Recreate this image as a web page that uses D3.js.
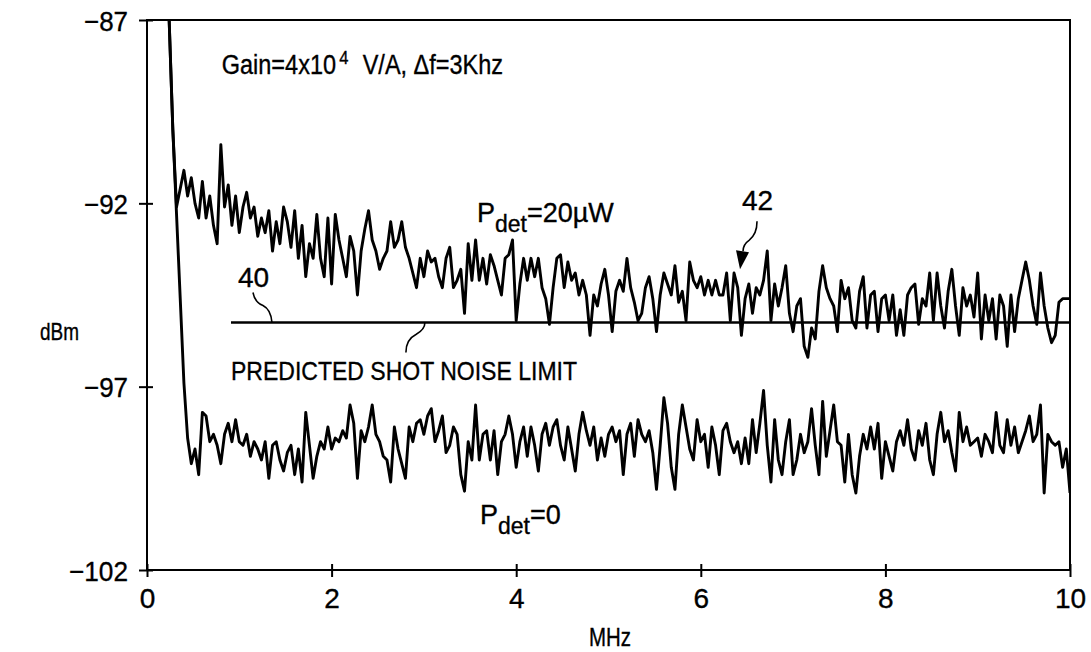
<!DOCTYPE html>
<html>
<head>
<meta charset="utf-8">
<script src="https://cdn.jsdelivr.net/npm/d3@7"></script>
<style>
  html, body { margin: 0; padding: 0; background: #fff; }
  svg { display: block; background: #fff; }
  text { font-family: "Liberation Sans Narrow", "Arial Narrow", "Liberation Sans", Arial, sans-serif; fill: #000; stroke: #000; stroke-width: 0.35px; }
</style>
</head>
<body>
<svg id="chart" width="1091" height="652"></svg>
<script>
// Analyser sweep grid (MHz): first point and spacing between points
const sweepStart = 0.24;
const sweepStep = 0.04;

// Noise power with 20 µW on the detector (dBm), one value per sweep point
const pdet20uW = [
  -87.0, -90.0, -92.1, -91.6, -91.1, -91.8, -91.3, -92.0, -92.4, -91.4,
  -92.4, -91.8, -92.6, -93.1, -90.4, -92.1, -91.5, -92.6, -91.8, -92.8,
  -92.1, -91.7, -92.4, -92.1, -92.9, -92.4, -92.8, -92.2, -93.3, -92.5,
  -93.1, -92.1, -92.5, -93.2, -92.2, -93.5, -92.6, -94.0, -93.1, -93.5,
  -92.3, -93.5, -94.0, -92.4, -94.2, -92.3, -93.0, -93.5, -94.0, -92.9,
  -93.3, -94.5, -93.3, -92.7, -92.2, -93.0, -93.3, -93.8, -93.5, -93.3,
  -92.5, -93.2, -93.0, -92.5, -93.2, -93.5, -93.9, -94.3, -93.5, -94.0,
  -93.3, -93.6, -93.5, -94.0, -94.3, -93.5, -93.2, -94.3, -94.1, -93.8,
  -95.0, -93.1, -94.1, -93.0, -94.1, -93.5, -94.2, -93.4, -93.7, -94.1,
  -94.5, -93.5, -93.4, -93.0, -95.2, -94.2, -93.5, -94.1, -93.5, -94.0,
  -93.5, -94.3, -94.6, -95.3, -94.3, -93.5, -93.4, -94.3, -93.6, -94.1,
  -93.9, -94.5, -94.1, -94.5, -95.6, -94.5, -94.8, -94.2, -93.8, -94.5,
  -95.5, -94.4, -94.1, -94.4, -93.5, -94.3, -94.7, -95.2, -95.0, -94.3,
  -94.0, -94.6, -95.5, -94.5, -93.9, -94.2, -94.5, -93.7, -94.7, -94.4,
  -95.2, -93.6, -94.1, -94.3, -94.0, -94.5, -94.1, -94.5, -94.1, -94.5,
  -94.5, -93.9, -95.2, -93.9, -94.3, -95.6, -94.6, -94.2, -95.0, -94.3,
  -94.5, -94.1, -93.3, -95.2, -94.2, -94.8, -94.3, -93.7, -95.0, -95.5,
  -94.8, -94.6, -95.9, -96.2, -95.4, -95.7, -94.4, -93.7, -94.3, -94.6,
  -94.8, -95.5, -94.1, -94.6, -94.3, -95.2, -95.4, -94.4, -94.0, -95.4,
  -94.5, -94.4, -95.5, -94.6, -94.5, -95.2, -94.5, -95.6, -94.9, -95.6,
  -94.5, -94.3, -94.2, -95.3, -94.6, -94.8, -93.9, -95.2, -93.9, -94.8,
  -95.4, -94.4, -93.8, -94.8, -95.6, -94.3, -94.8, -94.5, -95.1, -93.9,
  -95.7, -94.5, -95.2, -94.6, -95.7, -94.5, -94.8, -95.9, -94.5, -95.5,
  -94.6, -94.1, -93.6, -94.1, -94.8, -95.3, -93.9, -94.8, -95.4, -95.8,
  -95.6, -94.7, -94.6, -94.6, -94.6
];

// Noise power with no light on the detector (dBm)
const pdet0 = [
  -87.0, -90.0, -92.3, -94.6, -96.9, -98.4, -99.1, -98.7, -99.4, -97.7,
  -97.8, -98.5, -98.3, -98.6, -99.1, -98.3, -98.0, -98.5, -97.9, -98.5,
  -98.6, -98.3, -98.9, -98.5, -98.7, -99.0, -98.5, -99.5, -98.6, -98.5,
  -99.0, -99.3, -98.8, -98.6, -99.4, -98.7, -99.6, -97.7, -98.6, -99.5,
  -98.9, -98.5, -98.7, -98.1, -98.7, -98.4, -98.5, -98.2, -98.4, -97.5,
  -98.0, -99.5, -98.2, -98.5, -98.1, -97.5, -98.3, -98.5, -98.9, -99.0,
  -99.6, -98.1, -98.7, -99.1, -99.5, -98.1, -98.5, -98.0, -97.9, -98.3,
  -97.8, -97.6, -98.5, -98.2, -97.8, -98.8, -98.6, -98.1, -98.3, -99.4,
  -99.85, -98.5, -99.0, -97.5, -99.0, -98.3, -98.2, -99.0, -98.2, -99.4,
  -98.5, -98.3, -97.8, -98.3, -99.2, -98.5, -98.1, -98.9, -98.1, -98.6,
  -99.3, -98.3, -98.0, -98.6, -98.1, -97.9, -98.6, -99.0, -98.1, -98.7,
  -99.3, -98.3, -97.7, -98.2, -98.6, -98.1, -99.0, -98.4, -98.9, -98.3,
  -98.1, -98.5, -98.2, -99.4, -98.3, -98.0, -98.9, -97.9, -98.3, -98.5,
  -98.2, -98.8, -99.8, -98.6, -97.3, -98.0, -99.2, -99.8, -98.3, -97.5,
  -98.1, -98.7, -99.0, -97.9, -98.5, -98.3, -99.2, -98.1, -98.6, -99.4,
  -98.2, -98.0, -98.5, -98.8, -98.5, -99.1, -98.4, -99.1, -97.9, -98.8,
  -98.0, -97.1, -98.6, -99.6, -97.9, -99.0, -99.4, -98.5, -97.9, -99.4,
  -99.0, -98.3, -98.8, -98.5, -97.6, -98.6, -99.4, -97.4, -98.9, -98.2,
  -97.5, -98.5, -98.6, -99.6, -98.3, -99.4, -99.9, -98.9, -98.3, -98.7,
  -98.1, -98.7, -98.0, -99.5, -98.5, -98.9, -99.3, -98.5, -98.2, -98.6,
  -97.9, -98.7, -99.0, -98.2, -98.6, -98.0, -99.0, -99.4, -98.3, -97.7,
  -98.5, -98.2, -98.8, -99.3, -97.7, -98.5, -98.1, -98.6, -98.5, -98.4,
  -98.9, -98.3, -98.5, -98.8, -97.7, -98.6, -98.8, -97.9, -98.6, -98.1,
  -98.8, -98.5, -98.2, -97.8, -98.5, -98.3, -97.5, -99.9, -98.3, -98.5,
  -98.6, -98.5, -99.2, -98.7, -99.9
];

// Predicted shot-noise level (dBm) and the frequency where that line begins
const shotNoiseLimit = -95.25;
const shotNoiseFrom = 0.91;

// Axis domains and tick values
const freqDomain = [0, 10];
const powerDomain = [-102, -87];
const freqTicks = [0, 2, 4, 6, 8, 10];
const powerTicks = [-87, -92, -97, -102];

const svg = d3.select("#chart");
const W = 1091, H = 652;
const plot = { left: 147, right: 1070, top: 20, bottom: 570 };

const x = d3.scaleLinear().domain(freqDomain).range([plot.left, plot.right]);
const y = d3.scaleLinear().domain(powerDomain).range([plot.bottom, plot.top]);

svg.append("rect").attr("width", W).attr("height", H).attr("fill", "#fff");

// frame
svg.append("rect")
  .attr("x", x(0)).attr("y", y(-87))
  .attr("width", x(10) - x(0)).attr("height", y(-102) - y(-87))
  .attr("fill", "none").attr("stroke", "#000").attr("stroke-width", 2);

// bottom axis: ticks cross the axis line
const gx = svg.append("g")
  .attr("transform", `translate(0,${y(powerDomain[0])})`)
  .call(d3.axisBottom(x).tickValues(freqTicks).tickFormat(d3.format("d")));
gx.attr("font-family", null).attr("font-size", null);
gx.select(".domain").remove();
gx.selectAll(".tick line").attr("y1", -6).attr("y2", 7).attr("stroke", "#000").attr("stroke-width", 2);
gx.selectAll(".tick text").attr("y", 38).attr("dy", null).attr("font-size", 28).attr("fill", "#000");

// left axis
const gy = svg.append("g")
  .attr("transform", `translate(${x(freqDomain[0])},0)`)
  .call(d3.axisLeft(y).tickValues(powerTicks).tickFormat(d3.format("d")));
gy.attr("font-family", null).attr("font-size", null);
gy.select(".domain").remove();
gy.selectAll(".tick line").attr("x1", -8).attr("x2", 6).attr("stroke", "#000").attr("stroke-width", 2);
gy.selectAll(".tick text").attr("x", -19).attr("dy", 10).attr("font-size", 28).attr("fill", "#000")
  .attr("textLength", d => d <= -100 ? 59 : 44).attr("lengthAdjust", "spacingAndGlyphs");

// axis titles
svg.append("text").attr("x", 40).attr("y", 340).attr("font-size", 24)
  .attr("textLength", 39).attr("lengthAdjust", "spacingAndGlyphs").text("dBm");
svg.append("text").attr("x", 589).attr("y", 646).attr("font-size", 25)
  .attr("textLength", 42).attr("lengthAdjust", "spacingAndGlyphs").text("MHz");

// traces
const freqAt = i => sweepStart + i * sweepStep;
const trace = d3.line().x((d, i) => x(freqAt(i))).y(d => y(d));

svg.append("defs").append("clipPath").attr("id", "plotClip")
  .append("rect").attr("x", x(0)).attr("y", y(-87) - 1)
  .attr("width", x(10) - x(0)).attr("height", y(-102) - y(-87) + 2);

const traces = svg.append("g").attr("clip-path", "url(#plotClip)");
[pdet20uW, pdet0].forEach(series => {
  traces.append("path")
    .attr("d", trace(series))
    .attr("fill", "none")
    .attr("stroke", "#000")
    .attr("stroke-width", 2.9)
    .attr("stroke-linejoin", "round");
});

// predicted shot-noise line (40)
svg.append("line")
  .attr("x1", x(shotNoiseFrom)).attr("x2", x(freqDomain[1]))
  .attr("y1", y(shotNoiseLimit)).attr("y2", y(shotNoiseLimit))
  .attr("stroke", "#000").attr("stroke-width", 2.6);

// annotation text
const ann = svg.append("g");

// gain / bandwidth note in a horizontally condensed group, exponent raised
{
  const note = ann.append("g")
    .attr("transform", `translate(${x(0.81)},${y(-88.47)}) scale(0.87,1)`);
  note.append("text").attr("x", 0).attr("y", 0).attr("font-size", 27).text("Gain=4x10");
  note.append("text").attr("x", 135).attr("y", -10).attr("font-size", 19).text("4");
  note.append("text").attr("x", 162).attr("y", 0).attr("font-size", 27).text("V/A,  \u0394f=3Khz");
}

function pdetLabel(f, p, rest) {
  const t = ann.append("text").attr("x", x(f)).attr("y", y(p)).attr("font-size", 27);
  t.append("tspan").text("P");
  t.append("tspan").attr("font-size", 23).attr("dy", 10).text("det");
  t.append("tspan").attr("dy", -10).text(rest);
}
pdetLabel(3.575, -92.51, "=20\u00b5W");
pdetLabel(3.608, -100.74, "=0");

ann.append("text").attr("x", x(0.986)).attr("y", y(-94.28)).attr("font-size", 28).text("40");
ann.append("text").attr("x", x(6.446)).attr("y", y(-92.18)).attr("font-size", 28).text("42");

ann.append("text").attr("x", x(shotNoiseFrom)).attr("y", y(-96.82)).attr("font-size", 26)
  .attr("textLength", 346).attr("lengthAdjust", "spacingAndGlyphs")
  .text("PREDICTED  SHOT  NOISE  LIMIT");

// leader lines
const leaders = svg.append("g").attr("fill", "none").attr("stroke", "#000").attr("stroke-width", 1.6);

// "40" label to the shot-noise line
{
  const ex = x(1.354), ey = y(shotNoiseLimit);
  const p = d3.path();
  p.moveTo(ex - 19, ey - 30);
  p.quadraticCurveTo(ex - 17, ey - 20, ex - 9, ey - 17);
  p.quadraticCurveTo(ex - 1, ey - 13, ex, ey);
  leaders.append("path").attr("d", p.toString());
}
// shot-noise caption to the line
{
  const ex = x(3.011), ey = y(shotNoiseLimit);
  const p = d3.path();
  p.moveTo(ex - 19, ey + 30);
  p.quadraticCurveTo(ex - 19, ey + 17, ex - 9, ey + 12);
  p.quadraticCurveTo(ex, ey + 7, ex, ey);
  leaders.append("path").attr("d", p.toString());
}
// "42" arrow pointing at the 20 µW trace
{
  const tx = x(6.425), ty = y(-93.8);
  const p = d3.path();
  p.moveTo(tx + 17, ty - 48);
  p.quadraticCurveTo(tx + 17, ty - 35, tx + 9, ty - 29);
  p.quadraticCurveTo(tx + 3, ty - 25, tx + 3, ty - 18);
  leaders.append("path").attr("d", p.toString());
  svg.append("path")
    .attr("d", `M${tx - 4},${ty - 19} L${tx + 9},${ty - 17} L${tx},${ty} Z`)
    .attr("fill", "#000");
}
</script>
</body>
</html>
